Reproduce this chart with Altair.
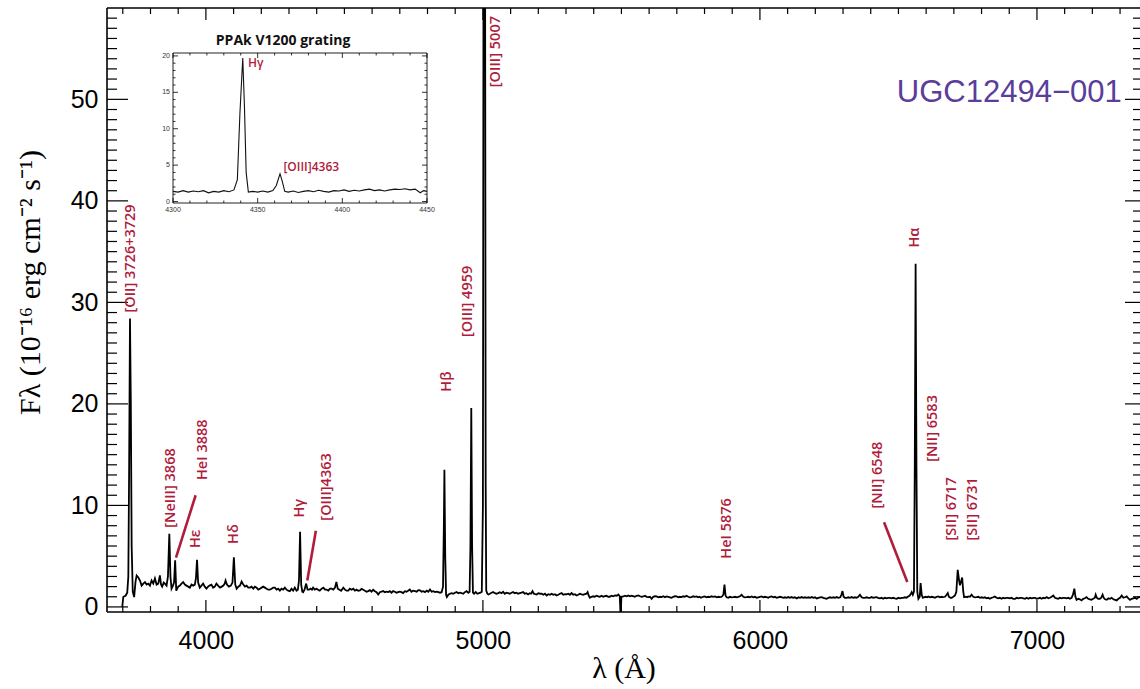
import altair as alt
import pandas as pd

RED = "#b01c3c"
PURPLE = "#5a3e99"

XMIN, XMAX = 3643, 7372
YMIN, YMAX = -0.5, 59.0
W, H = 1033, 604

IXMIN, IXMAX = 4300, 4450
IYMIN, IYMAX = -0.2, 20.4

# ---------------- main spectrum (wavelength [A], flux) ----------------
spec_blue = [
    (3698, 0.0), (3702, 1.0), (3710, 1.1), (3716, 1.4), (3720, 3.0), (3723, 14.0), (3726, 28.4),
    (3729, 20.0), (3732, 6.0), (3736, 1.5), (3741, 0.97), (3746, 2.5), (3750, 3.1), (3756, 2.9),
    (3762, 2.6), (3768, 2.1), (3774, 2.3), (3780, 2.45), (3786, 2.2), (3792, 2.3), (3798, 2.1),
    (3804, 2.6), (3810, 2.3), (3816, 2.8), (3822, 2.2), (3828, 2.3), (3834, 3.1), (3838, 2.2),
    (3842, 2.0), (3848, 2.4), (3852, 2.3), (3858, 2.1), (3863, 3.0), (3868, 7.2), (3872, 3.0),
    (3876, 1.8), (3881, 2.1), (3885, 2.4), (3889, 4.6), (3893, 1.6), (3900, 2.0), (3906, 2.1),
    (3912, 2.3), (3918, 2.45), (3924, 2.2), (3930, 2.1), (3936, 2.0), (3942, 1.9), (3948, 2.2),
    (3954, 2.1), (3960, 2.2), (3964, 2.8), (3968, 4.65), (3972, 2.4), (3978, 1.9), (3984, 2.1),
    (3990, 2.3), (3996, 2.0), (4002, 1.8), (4008, 2.0), (4013, 2.1), (4020, 2.2), (4026, 1.9),
    (4032, 2.0), (4038, 2.3), (4044, 2.1), (4051, 1.9), (4057, 2.0), (4063, 2.1), (4068, 2.3),
    (4071, 2.6), (4076, 2.2), (4083, 2.0), (4090, 2.1), (4096, 2.4), (4101, 4.9), (4106, 2.2),
    (4111, 1.8), (4117, 2.0), (4123, 2.1), (4129, 2.5), (4135, 2.2), (4141, 2.0), (4147, 2.1),
    (4153, 1.9), (4159, 1.9), (4165, 2.0), (4171, 1.8), (4177, 2.0), (4183, 1.9), (4189, 1.7),
    (4195, 1.8), (4201, 1.9), (4207, 2.0), (4213, 1.9), (4219, 1.8), (4225, 1.7), (4231, 1.7),
    (4237, 1.8), (4243, 1.9), (4249, 1.9), (4255, 1.7), (4261, 1.8), (4267, 1.6), (4273, 1.8),
    (4279, 1.7), (4285, 1.9), (4291, 1.7), (4297, 1.6), (4303, 1.55), (4309, 1.8), (4315, 1.6),
    (4321, 1.9), (4327, 1.6), (4332, 1.7), (4336, 2.6), (4340, 7.4), (4344, 2.2), (4348, 1.5),
    (4351, 1.45), (4356, 1.7), (4362, 2.3), (4367, 1.7), (4372, 1.7), (4378, 1.8), (4383, 1.7),
    (4387, 1.9), (4393, 1.7), (4399, 1.8), (4405, 1.7), (4411, 1.6), (4418, 1.8), (4424, 1.9),
    (4430, 1.7), (4436, 1.7), (4442, 1.6), (4448, 1.8), (4454, 1.8), (4460, 1.7), (4466, 1.9),
    (4471, 2.45), (4476, 1.8), (4482, 1.7), (4488, 1.6), (4496, 1.9), (4502, 1.7), (4508, 1.6),
    (4514, 1.6), (4520, 1.8), (4526, 1.7), (4532, 1.8), (4538, 1.6), (4544, 1.7), (4550, 1.6),
]

spec_green = [
    (4556, 1.63), (4562, 1.79), (4568, 1.7), (4574, 1.6), (4580, 1.5), (4586, 1.56), (4592, 1.65),
    (4598, 1.5), (4604, 1.69), (4610, 1.55), (4616, 1.45), (4622, 1.23), (4628, 1.45), (4634, 1.5),
    (4640, 1.56), (4646, 1.45), (4652, 1.5), (4658, 1.46), (4664, 1.55), (4670, 1.4), (4676, 1.56),
    (4682, 1.5), (4688, 1.4), (4694, 1.46), (4700, 1.5), (4706, 1.45), (4712, 1.36), (4718, 1.55),
    (4724, 1.5), (4730, 1.6), (4736, 1.72), (4742, 1.5), (4748, 1.6), (4755, 1.56), (4761, 1.5),
    (4767, 1.65), (4773, 1.63), (4779, 1.5), (4785, 1.55), (4791, 1.46), (4797, 1.6), (4803, 1.5),
    (4809, 1.72), (4815, 1.5), (4821, 1.55), (4827, 1.46), (4833, 1.5), (4839, 1.45), (4845, 1.4),
    (4851, 1.45), (4856, 2.0), (4859, 8.0), (4861, 13.5), (4864, 5.0), (4867, 1.2), (4870, 0.98),
    (4875, 1.2), (4881, 1.3), (4887, 1.36), (4893, 1.3), (4899, 1.4), (4905, 1.46), (4911, 1.35),
    (4917, 1.4), (4923, 1.36), (4929, 1.3), (4935, 1.45), (4941, 1.56), (4947, 1.4), (4952, 1.5),
    (4955, 6.0), (4958, 19.6), (4961, 6.0), (4964, 1.4), (4968, 1.3), (4974, 1.46), (4980, 1.3),
    (4986, 1.36), (4991, 1.4), (4996, 1.5), (5000, 10.0), (5002, 60.0), (5004, 62.0), (5006, 62.0),
    (5008, 60.0), (5010, 12.0),
    (5012, 1.6), (5016, 1.3), (5020, 1.23), (5025, 1.3), (5031, 1.4), (5037, 1.46), (5043, 1.35),
    (5049, 1.3), (5055, 1.36), (5061, 1.45), (5067, 1.35), (5073, 1.49), (5079, 1.3), (5085, 1.4),
    (5091, 1.36), (5097, 1.3), (5103, 1.4), (5109, 1.46), (5115, 1.35), (5121, 1.4), (5127, 1.3),
    (5133, 1.35), (5139, 1.4), (5145, 1.46), (5151, 1.3), (5157, 1.35), (5163, 1.23), (5169, 1.35),
    (5174, 1.3), (5179, 1.56), (5184, 1.3), (5189, 1.25), (5194, 1.23), (5200, 1.35), (5206, 1.3),
    (5212, 1.3), (5218, 1.2), (5224, 1.3), (5230, 1.13), (5236, 1.25), (5242, 1.2), (5248, 1.3),
    (5254, 1.2), (5260, 1.25), (5266, 1.13), (5272, 1.2), (5278, 1.3), (5284, 1.36), (5290, 1.2),
    (5296, 1.25), (5302, 1.23), (5308, 1.3), (5314, 1.2), (5320, 1.36), (5326, 1.2), (5332, 1.25),
    (5338, 1.13), (5344, 1.2), (5350, 1.3), (5356, 1.23), (5362, 1.2), (5368, 1.25), (5374, 1.3),
    (5378, 1.46), (5382, 1.1), (5386, 0.9), (5392, 1.0), (5398, 1.05), (5404, 1.0), (5410, 1.1),
    (5416, 1.05), (5422, 1.0), (5428, 1.1), (5434, 1.0), (5440, 1.06), (5446, 1.1), (5452, 1.0),
    (5458, 1.0), (5464, 1.1), (5470, 1.05), (5477, 1.13), (5483, 1.1), (5489, 1.23), (5494, 1.05),
    (5497, -0.9), (5500, 1.0), (5507, 1.03), (5513, 1.1), (5519, 1.05), (5525, 1.13), (5531, 1.05),
    (5537, 1.1), (5542, 1.07), (5548, 1.0), (5555, 1.1), (5561, 1.13), (5567, 1.05), (5573, 1.0),
    (5579, 1.03), (5585, 1.1), (5591, 1.0), (5597, 0.97), (5603, 1.0), (5609, 0.8), (5615, 1.0),
    (5621, 1.05), (5627, 1.03), (5633, 0.95), (5639, 1.0), (5645, 0.97), (5651, 1.05), (5657, 0.95),
    (5663, 1.03), (5669, 1.0), (5675, 0.95), (5681, 0.9), (5687, 1.0), (5693, 1.05), (5699, 1.03),
    (5705, 0.95), (5711, 1.0), (5717, 0.97), (5723, 1.05), (5729, 1.0), (5735, 1.1), (5741, 1.0),
    (5747, 0.95), (5753, 0.97), (5759, 1.05), (5765, 1.0), (5771, 1.03), (5777, 0.95), (5782, 1.0),
    (5787, 0.9), (5794, 1.0), (5801, 1.03), (5807, 0.95), (5813, 1.0), (5819, 0.97), (5825, 1.05),
    (5831, 1.0), (5838, 1.03), (5844, 0.95), (5850, 1.0), (5856, 0.97), (5862, 1.0), (5868, 1.2),
    (5872, 2.2), (5876, 1.1), (5880, 0.95), (5886, 0.9), (5892, 1.0), (5898, 0.95), (5904, 0.97),
]

spec_red = [
    (5910, 1.0), (5916, 0.95), (5922, 1.0), (5928, 1.05), (5934, 1.2), (5940, 1.0), (5946, 0.95),
    (5952, 0.97), (5958, 1.0), (5964, 0.95), (5970, 1.03), (5976, 0.95), (5982, 1.0), (5988, 0.9),
    (5994, 0.95), (6000, 1.0), (6006, 1.03), (6012, 0.95), (6018, 1.0), (6024, 0.97), (6030, 0.9),
    (6036, 1.0), (6042, 1.03), (6048, 0.95), (6054, 1.0), (6060, 0.9), (6066, 0.95), (6072, 1.0),
    (6078, 0.97), (6084, 0.9), (6090, 0.95), (6096, 0.9), (6102, 0.97), (6108, 0.9), (6114, 0.97),
    (6120, 0.9), (6126, 0.95), (6133, 0.84), (6139, 0.95), (6145, 0.9), (6151, 0.97), (6157, 0.9),
    (6163, 0.95), (6169, 0.9), (6175, 0.95), (6181, 0.9), (6187, 0.97), (6193, 0.9), (6199, 0.95),
    (6205, 0.84), (6211, 0.9), (6217, 0.95), (6223, 0.97), (6229, 0.9), (6235, 0.85), (6241, 0.8),
    (6247, 0.9), (6253, 0.95), (6259, 0.9), (6265, 0.95), (6271, 0.9), (6277, 0.97), (6283, 0.9),
    (6290, 0.95), (6294, 1.2), (6298, 1.56), (6302, 1.0), (6307, 0.9), (6313, 0.9), (6319, 0.95),
    (6325, 0.9), (6331, 0.97), (6337, 0.9), (6343, 0.95), (6349, 0.9), (6355, 1.0), (6361, 1.2),
    (6367, 0.95), (6373, 0.9), (6379, 0.9), (6385, 0.95), (6391, 0.9), (6397, 0.9), (6403, 0.97),
    (6409, 0.9), (6415, 0.95), (6421, 0.97), (6427, 0.9), (6433, 0.85), (6439, 0.9), (6445, 0.8),
    (6451, 0.9), (6457, 0.85), (6463, 0.9), (6469, 0.9), (6475, 0.85), (6481, 0.9), (6487, 0.85),
    (6494, 0.8), (6500, 0.9), (6506, 0.85), (6512, 0.9), (6517, 0.9), (6523, 0.95), (6529, 0.9),
    (6535, 1.03), (6540, 1.1), (6545, 1.3), (6548, 1.46), (6552, 1.2), (6556, 1.5), (6559, 14.0),
    (6562, 33.8), (6565, 14.0), (6568, 1.5), (6572, 0.8), (6577, 1.0), (6580, 2.35), (6584, 1.2),
    (6588, 0.9), (6592, 0.95), (6598, 1.0), (6604, 0.95), (6608, 1.03), (6614, 0.95), (6620, 1.0),
    (6626, 0.97), (6632, 0.9), (6638, 1.0), (6644, 1.03), (6650, 0.95), (6656, 1.0), (6660, 0.97),
    (6668, 1.0), (6674, 1.2), (6678, 1.36), (6682, 1.0), (6688, 0.9), (6692, 0.9), (6698, 1.0),
    (6704, 1.13), (6709, 1.5), (6714, 3.66), (6719, 2.6), (6722, 2.13), (6726, 2.5), (6730, 2.89),
    (6734, 1.5), (6737, 0.97), (6743, 1.0), (6748, 0.95), (6752, 1.03), (6758, 1.0), (6764, 1.2),
    (6770, 1.0), (6776, 0.95), (6782, 0.97), (6788, 1.0), (6794, 0.9), (6800, 0.95), (6806, 0.9),
    (6812, 0.95), (6818, 0.85), (6824, 0.9), (6830, 0.8), (6836, 0.9), (6842, 0.95), (6848, 1.03),
    (6854, 0.9), (6860, 0.85), (6866, 0.9), (6872, 0.8), (6878, 0.9), (6884, 0.85), (6890, 0.9),
    (6896, 0.9), (6902, 0.85), (6908, 0.9), (6914, 0.8), (6921, 0.8), (6927, 0.9), (6933, 0.85),
    (6939, 0.9), (6945, 0.9), (6951, 0.85), (6957, 0.8), (6963, 0.9), (6969, 0.8), (6975, 0.9),
    (6981, 0.85), (6987, 0.9), (6993, 0.9), (6999, 0.8), (7005, 0.85), (7011, 0.9), (7017, 0.8),
    (7023, 0.9), (7029, 0.85), (7035, 0.97), (7041, 0.85), (7047, 0.9), (7053, 1.0), (7059, 1.13),
    (7065, 0.9), (7071, 0.85), (7077, 0.8), (7083, 0.9), (7089, 0.85), (7095, 0.9), (7101, 0.9),
    (7107, 0.85), (7113, 0.9), (7119, 0.8), (7125, 0.9), (7130, 1.2), (7135, 1.8), (7139, 1.0),
    (7143, 0.7), (7149, 0.8), (7155, 0.75), (7161, 0.64), (7167, 0.8), (7173, 0.85), (7179, 0.97),
    (7185, 0.8), (7191, 0.75), (7197, 0.7), (7203, 0.8), (7209, 0.9), (7212, 1.2), (7216, 0.9),
    (7221, 0.8), (7227, 0.8), (7232, 0.9), (7237, 1.2), (7241, 0.9), (7246, 0.75), (7252, 0.7),
    (7258, 0.85), (7264, 0.8), (7270, 0.9), (7276, 0.75), (7282, 0.7), (7288, 0.64), (7294, 0.8),
    (7300, 0.9), (7306, 1.13), (7312, 0.9), (7318, 0.95), (7324, 1.03), (7330, 0.85), (7336, 0.7),
    (7342, 0.8), (7348, 0.85), (7354, 0.9), (7360, 0.8), (7366, 0.95), (7372, 0.97), (7380, 0.9),
]

# ---------------- inset spectrum (PPAk V1200) ----------------
inset_spec = [
    (4300, 1.4), (4303, 1.3), (4306, 1.5), (4309, 1.3), (4312, 1.45), (4315, 1.35), (4318, 1.5),
    (4321, 1.2), (4324, 1.4), (4327, 1.3), (4330, 1.5), (4333, 1.35), (4336, 1.6), (4338, 3.0),
    (4339.5, 12.0), (4341.2, 19.7), (4342.2, 13.0), (4343.2, 4.0), (4344.5, 1.3), (4347, 1.4),
    (4350, 1.3), (4353, 1.45), (4356, 1.3), (4359, 1.5), (4361, 2.2), (4363.2, 3.8), (4364.5, 2.8),
    (4366, 1.4), (4368, 1.3), (4371, 1.45), (4374, 1.25), (4377, 1.4), (4380, 1.5), (4383, 1.35),
    (4386, 1.55), (4389, 1.4), (4392, 1.3), (4395, 1.5), (4398, 1.45), (4401, 1.6), (4404, 1.4),
    (4407, 1.55), (4410, 1.45), (4413, 1.6), (4416, 1.7), (4419, 1.5), (4422, 1.6), (4425, 1.45),
    (4428, 1.6), (4431, 1.7), (4434, 1.65), (4437, 1.75), (4440, 1.6), (4443, 1.7), (4446, 1.2),
    (4448, 1.5), (4450, 1.4),
]

# ---------------- line identifications ----------------
label_text = ["[OII] 3726+3729", "[NeIII] 3868", "HeI 3888", "Hε", "Hδ", "Hγ", "[OIII]4363",
              "Hβ", "[OIII] 4959", "[OIII] 5007", "HeI 5876", "[NII] 6548", "Hα", "[NII] 6583",
              "[SII] 6717", "[SII] 6731"]
label_wave = [3729, 3874, 3990, 3966, 4102, 4338, 4436, 4869, 4947, 5049, 5880, 6427, 6560, 6623,
              6695, 6770]
label_flux = [29.0, 7.8, 12.5, 5.8, 6.2, 8.8, 8.5, 21.2, 26.6, 51.2, 4.75, 9.7, 35.4, 14.3,
              6.55, 6.55]

pointer_w1 = [3963, 4397, 6448]
pointer_f1 = [11.0, 7.5, 8.35]
pointer_w2 = [3892, 4366, 6532]
pointer_f2 = [4.85, 2.6, 2.45]

inset_label_text = ["Hγ", "[OIII]4363"]
inset_label_wave = [4344.3, 4365.2]
inset_label_flux = [19.0, 4.8]

# ---------------- ticks ----------------
x_major = [4000, 5000, 6000, 7000]
x_minor = [v for v in range(3700, 7400, 100) if v % 1000]
y_major = [0, 10, 20, 30, 40, 50]
y_minor = [v for v in range(1, 59) if v % 10]

inset_x_major = [4300, 4350, 4400, 4450]
inset_x_minor = [v for v in range(4310, 4450, 10) if v % 50]
inset_y_major = [0, 5, 10, 15, 20]
inset_y_minor = [v for v in range(1, 21) if v % 5]

# ---------------- scales ----------------
xs = alt.Scale(domain=[XMIN, XMAX], nice=False, zero=False)
ys = alt.Scale(domain=[YMIN, YMAX], nice=False, zero=False)
ixs = alt.Scale(domain=[IXMIN, IXMAX], range=[66, 320], nice=False, zero=False)
iys = alt.Scale(domain=[IYMIN, IYMAX], range=[195, 45], nice=False, zero=False)


def spec_df(*parts):
    rows = [p for part in parts for p in part]
    return pd.DataFrame({"w": [r[0] for r in rows], "f": [r[1] for r in rows]})


layers = []

# main spectrum with axes (labels only; ticks drawn inward below)
main_df = spec_df(spec_blue, spec_green, spec_red)
layers.append(
    alt.Chart(main_df).mark_line(color="black", strokeWidth=1.8, clip=True).encode(
        x=alt.X("w:Q", scale=xs, axis=alt.Axis(
            values=x_major, ticks=False, tickSize=0, domain=False, grid=False, format="d",
            labelFont="Liberation Sans", labelFontSize=25, labelColor="black", labelPadding=16,
            labelFlush=False, labelOverlap=False,
            title="λ (Å)", titleFont="Liberation Serif", titleFontSize=30,
            titleFontWeight="normal", titleColor="black", titleY=56, titleBaseline="middle")),
        y=alt.Y("f:Q", scale=ys, axis=alt.Axis(
            values=y_major, ticks=False, tickSize=0, domain=False, grid=False, format="d",
            labelFont="Liberation Sans", labelFontSize=25, labelColor="black", labelPadding=9,
            labelFlush=False, labelOverlap=False,
            title="Fλ (10⁻¹⁶ erg cm⁻² s⁻¹)", titleFont="Liberation Serif", titleFontSize=30,
            titleFontWeight="normal", titleColor="black", titleAngle=270, titleX=-77, titleY=274,
            titleAlign="center", titleBaseline="middle")),
        order="w:Q",
    )
)

# frame (left, top, bottom)
frame_df = pd.DataFrame({"x": [XMIN, XMIN, XMIN], "x2": [XMIN, XMAX, XMAX],
                         "y": [YMIN, YMAX, YMIN], "y2": [YMAX, YMAX, YMIN]})
layers.append(alt.Chart(frame_df).mark_rule(color="black", strokeWidth=1.6).encode(
    x=alt.X("x:Q", scale=xs, axis=None), x2="x2:Q",
    y=alt.Y("y:Q", scale=ys, axis=None), y2="y2:Q"))


def yticks(values, edge, length, xsc, ysc, width=1.2):
    df = pd.DataFrame({"v": values, "e": [edge] * len(values)})
    return alt.Chart(df).mark_rule(color="black", strokeWidth=width, x2Offset=length).encode(
        x=alt.X("e:Q", scale=xsc, axis=None), x2="e:Q",
        y=alt.Y("v:Q", scale=ysc, axis=None))


def xticks(values, edge, length, xsc, ysc, width=1.2):
    df = pd.DataFrame({"v": values, "e": [edge] * len(values)})
    return alt.Chart(df).mark_rule(color="black", strokeWidth=width, y2Offset=length).encode(
        x=alt.X("v:Q", scale=xsc, axis=None),
        y=alt.Y("e:Q", scale=ysc, axis=None), y2="e:Q")


layers += [
    yticks(y_major, XMIN, 21, xs, ys), yticks(y_minor, XMIN, 10, xs, ys),
    yticks(y_major, XMAX, -15, xs, ys), yticks(y_minor, XMAX, -7, xs, ys),
    xticks(x_major, YMIN, -12, xs, ys), xticks(x_minor, YMIN, -6, xs, ys),
    xticks(x_major, YMAX, 12, xs, ys), xticks(x_minor, YMAX, 6, xs, ys),
]

# pointer lines
ptr_df = pd.DataFrame({"w1": pointer_w1, "f1": pointer_f1, "w2": pointer_w2, "f2": pointer_f2})
layers.append(alt.Chart(ptr_df).mark_rule(color=RED, strokeWidth=2.6).encode(
    x=alt.X("w1:Q", scale=xs, axis=None), x2="w2:Q",
    y=alt.Y("f1:Q", scale=ys, axis=None), y2="f2:Q"))

# line labels
lab_df = pd.DataFrame({"t": label_text, "w": label_wave, "f": label_flux})
layers.append(alt.Chart(lab_df).mark_text(
    angle=270, align="left", baseline="middle", font="Open Sans", fontSize=14.5,
    fontWeight=600, color=RED
).encode(x=alt.X("w:Q", scale=xs, axis=None), y=alt.Y("f:Q", scale=ys, axis=None), text="t:N"))

# object name
obj_df = pd.DataFrame({"t": ["UGC12494−001"], "w": [7306], "f": [49.73]})
layers.append(alt.Chart(obj_df).mark_text(
    align="right", baseline="alphabetic", font="Liberation Sans", fontSize=31, color=PURPLE
).encode(x=alt.X("w:Q", scale=xs, axis=None), y=alt.Y("f:Q", scale=ys, axis=None), text="t:N"))

# ---------------- inset ----------------
inset_box = pd.DataFrame({"x": [IXMIN], "x2": [IXMAX], "y": [IYMIN], "y2": [IYMAX]})
layers.append(alt.Chart(inset_box).mark_rect(fill="white", stroke="#222222", strokeWidth=1).encode(
    x=alt.X("x:Q", scale=ixs, axis=None), x2="x2:Q",
    y=alt.Y("y:Q", scale=iys, axis=None), y2="y2:Q"))

layers.append(alt.Chart(spec_df(inset_spec)).mark_line(color="#111111", strokeWidth=1.1).encode(
    x=alt.X("w:Q", scale=ixs, axis=None), y=alt.Y("f:Q", scale=iys, axis=None), order="w:Q"))

layers += [
    yticks(inset_y_major, IXMIN, 5, ixs, iys, 0.8), yticks(inset_y_minor, IXMIN, 2.5, ixs, iys, 0.8),
    yticks(inset_y_major, IXMAX, -5, ixs, iys, 0.8), yticks(inset_y_minor, IXMAX, -2.5, ixs, iys, 0.8),
    xticks(inset_x_major, IYMIN, -5, ixs, iys, 0.8), xticks(inset_x_minor, IYMIN, -2.5, ixs, iys, 0.8),
    xticks(inset_x_major, IYMAX, 5, ixs, iys, 0.8), xticks(inset_x_minor, IYMAX, 2.5, ixs, iys, 0.8),
]

iyl = pd.DataFrame({"v": inset_y_major, "e": [IXMIN] * len(inset_y_major)})
layers.append(alt.Chart(iyl).mark_text(align="right", baseline="middle", dx=-3, fontSize=7,
                                       font="Liberation Sans", color="#333333").encode(
    x=alt.X("e:Q", scale=ixs, axis=None), y=alt.Y("v:Q", scale=iys, axis=None),
    text=alt.Text("v:Q", format="d")))

ixl = pd.DataFrame({"v": inset_x_major, "e": [IYMIN] * len(inset_x_major)})
layers.append(alt.Chart(ixl).mark_text(align="center", baseline="top", dy=3, fontSize=7,
                                       font="Liberation Sans", color="#333333").encode(
    x=alt.X("v:Q", scale=ixs, axis=None), y=alt.Y("e:Q", scale=iys, axis=None),
    text=alt.Text("v:Q", format="d")))

ititle = pd.DataFrame({"t": ["PPAk V1200 grating"], "w": [4365], "f": [22.0]})
layers.append(alt.Chart(ititle).mark_text(align="center", baseline="middle", font="Open Sans",
                                          fontSize=14, fontWeight="bold", color="#111111").encode(
    x=alt.X("w:Q", scale=ixs, axis=None), y=alt.Y("f:Q", scale=iys, axis=None), text="t:N"))

ilab = pd.DataFrame({"t": inset_label_text, "w": inset_label_wave, "f": inset_label_flux})
layers.append(alt.Chart(ilab).mark_text(align="left", baseline="middle", font="Open Sans",
                                        fontSize=12, fontWeight=600, color=RED).encode(
    x=alt.X("w:Q", scale=ixs, axis=None), y=alt.Y("f:Q", scale=iys, axis=None), text="t:N"))

chart = alt.layer(*layers).resolve_scale(x="independent", y="independent").properties(
    width=W, height=H,
    padding={"left": 107, "top": 8, "right": 0, "bottom": 77},
    autosize=alt.AutoSizeParams(type="none"),
    background="white",
).configure_view(stroke=None)

chart.save("out.html", embed_options={"renderer": "svg", "actions": False})
